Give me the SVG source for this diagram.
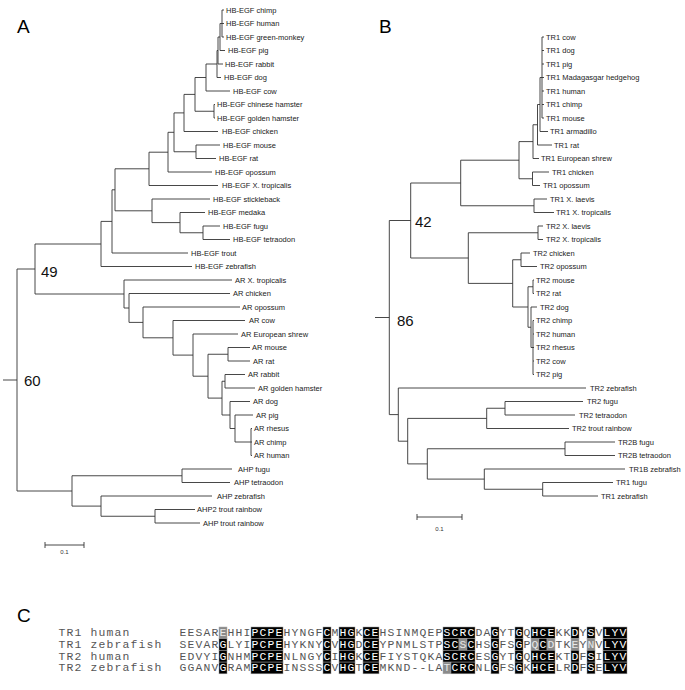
<svg xmlns="http://www.w3.org/2000/svg" width="685" height="690" viewBox="0 0 685 690">
<style>
.e{fill:none;stroke:#333;stroke-width:0.9}
.l{font-family:"Liberation Sans",Arial,sans-serif;font-size:7.5px;fill:#222}
.p{font-family:"Liberation Sans",Arial,sans-serif;font-size:19px;fill:#000}
.n{font-family:"Liberation Sans",Arial,sans-serif;font-size:15px;fill:#111}
.s{font-family:"Liberation Sans",Arial,sans-serif;font-size:6px;fill:#333}
.m{font-family:"Liberation Mono","Courier New",monospace;font-size:11.4px;letter-spacing:1.16px;fill:#555}
.b{fill:#000;stroke:#999;stroke-width:0.5}
.g{fill:#8a8a8a;stroke:#aaa;stroke-width:0.5}
.w{fill:#fff}
.wg{fill:#e8e8e8}
</style>
<rect width="685" height="690" fill="#fff"/>
<text class="p" x="17" y="33">A</text>
<text class="p" x="379" y="33">B</text>
<text class="p" x="17" y="622">C</text>
<g id="connectors">
<path class="e" d="M224,10H222V37H224M222,23.5H224"/>
<path class="e" d="M222,23.5H220V50.5H225"/>
<path class="e" d="M220,37H218V64H223"/>
<path class="e" d="M218,50.5H217V77.5H221"/>
<path class="e" d="M217,64H206V91H230"/>
<path class="e" d="M215,104.5H214V118H215"/>
<path class="e" d="M206,77.5H195V111.25H214"/>
<path class="e" d="M195,94.4H184V131.5H218"/>
<path class="e" d="M220,145H196V158.5H216"/>
<path class="e" d="M184,112.9H174V151.75H196"/>
<path class="e" d="M174,132.3H168V172H212"/>
<path class="e" d="M168,152.2H149V185.5H218"/>
<path class="e" d="M220,226H203V239.5H230"/>
<path class="e" d="M205,212.5H180V232.75H203"/>
<path class="e" d="M210,199H152V222.6H180"/>
<path class="e" d="M149,168.8H115V210.8H152"/>
<path class="e" d="M115,189.8H112V253H188"/>
<path class="e" d="M112,221.4H101V266.5H192"/>
<path class="e" d="M252,428.5H251V455.5H252M251,442H252"/>
<path class="e" d="M253,415H235V442H251"/>
<path class="e" d="M250,401.5H230V428.5H235"/>
<path class="e" d="M245,374.5H225V388H255"/>
<path class="e" d="M225,381.25H222V415H230"/>
<path class="e" d="M250,347.5H228V361H250"/>
<path class="e" d="M228,354.25H208V398.1H222"/>
<path class="e" d="M238,334H193V376.2H208"/>
<path class="e" d="M245,320.5H173V355.1H193"/>
<path class="e" d="M240,307H143V337.8H173"/>
<path class="e" d="M230,293.5H129V322.4H143"/>
<path class="e" d="M232,280H124V308H129"/>
<path class="e" d="M101,244H35V294H124"/>
<path class="e" d="M232,469H182V482.5H230"/>
<path class="e" d="M195,509.5H155V523H200"/>
<path class="e" d="M212,496H101V516.25H155"/>
<path class="e" d="M182,475.75H72V506.1H101"/>
<path class="e" d="M35,269H17V491H72M3,380H17"/>
<path class="e" d="M45,545H84M45,542V548M84,542V548"/>
<path class="e" d="M544,37H542V118H544M542,50.5H544M542,64H544M542,77.5H544M542,91H544M542,104.5H544"/>
<path class="e" d="M542,77.5H540V131.5H548"/>
<path class="e" d="M540,104.5H537.5V145H552"/>
<path class="e" d="M537.5,124.75H533V158.5H539"/>
<path class="e" d="M549,172H532.5V185.5H540"/>
<path class="e" d="M533,141.6H519V178.75H532.5"/>
<path class="e" d="M547,199H534V212.5H554"/>
<path class="e" d="M519,160.2H460.7V205.75H534"/>
<path class="e" d="M543,226H538V239.5H543"/>
<path class="e" d="M530,253H521V266.5H537"/>
<path class="e" d="M534,280H533V293.5H534"/>
<path class="e" d="M534,320.5H533V374.5H534M533,334H534M533,347.5H534M533,361H534"/>
<path class="e" d="M537,307H531V347.5H533"/>
<path class="e" d="M533,286.75H528V327.25H531"/>
<path class="e" d="M521,259.75H512.7V307H528"/>
<path class="e" d="M538,232.75H468.3V283.4H512.7"/>
<path class="e" d="M460.7,183H410.7V258H468.3"/>
<path class="e" d="M583,401.5H505V415H575"/>
<path class="e" d="M505,408.25H486.7V428.5H569"/>
<path class="e" d="M615,442H565V455.5H615"/>
<path class="e" d="M613,482.5H542.7V496H598"/>
<path class="e" d="M625,469H484.3V489.25H542.7"/>
<path class="e" d="M565,448.75H427.3V479.1H484.3"/>
<path class="e" d="M486.7,418.4H407.7V463.9H427.3"/>
<path class="e" d="M586,388H398.3V441.2H407.7"/>
<path class="e" d="M410.7,220.5H389.3V414.6H398.3M375,317.5H389.3"/>
<path class="e" d="M417,517H462M417,514V520M462,514V520"/>
</g>
<g id="treeA-labels">
<text class="l" x="226" y="12.7">HB-EGF chimp</text>
<text class="l" x="226" y="26.2">HB-EGF human</text>
<text class="l" x="226" y="39.7">HB-EGF green-monkey</text>
<text class="l" x="228" y="53.2">HB-EGF pig</text>
<text class="l" x="225" y="66.7">HB-EGF rabbit</text>
<text class="l" x="224" y="80.2">HB-EGF dog</text>
<text class="l" x="233" y="93.7">HB-EGF cow</text>
<text class="l" x="217" y="107.2">HB-EGF chinese hamster</text>
<text class="l" x="217" y="120.7">HB-EGF golden hamster</text>
<text class="l" x="222" y="134.2">HB-EGF chicken</text>
<text class="l" x="223" y="147.7">HB-EGF mouse</text>
<text class="l" x="219" y="161.2">HB-EGF rat</text>
<text class="l" x="215" y="174.7">HB-EGF opossum</text>
<text class="l" x="222" y="188.2">HB-EGF X. tropicalis</text>
<text class="l" x="213" y="201.7">HB-EGF stickleback</text>
<text class="l" x="208" y="215.2">HB-EGF medaka</text>
<text class="l" x="223" y="228.7">HB-EGF fugu</text>
<text class="l" x="233" y="242.2">HB-EGF tetraodon</text>
<text class="l" x="191" y="255.7">HB-EGF trout</text>
<text class="l" x="195" y="269.2">HB-EGF zebrafish</text>
<text class="l" x="235" y="282.7">AR X. tropicalis</text>
<text class="l" x="233" y="296.2">AR chicken</text>
<text class="l" x="242" y="309.7">AR opossum</text>
<text class="l" x="249" y="323.2">AR cow</text>
<text class="l" x="241" y="336.7">AR European shrew</text>
<text class="l" x="252" y="350.2">AR mouse</text>
<text class="l" x="253" y="363.7">AR rat</text>
<text class="l" x="248" y="377.2">AR rabbit</text>
<text class="l" x="258" y="390.7">AR golden hamster</text>
<text class="l" x="253" y="404.2">AR dog</text>
<text class="l" x="256" y="417.7">AR pig</text>
<text class="l" x="254" y="431.2">AR rhesus</text>
<text class="l" x="254" y="444.7">AR chimp</text>
<text class="l" x="254" y="458.2">AR human</text>
<text class="l" x="238" y="471.7">AHP fugu</text>
<text class="l" x="234" y="485.2">AHP tetraodon</text>
<text class="l" x="217" y="498.7">AHP zebrafish</text>
<text class="l" x="197" y="512.2">AHP2 trout rainbow</text>
<text class="l" x="203" y="525.7">AHP trout rainbow</text>
<text class="n" x="41" y="277">49</text>
<text class="n" x="24" y="386">60</text>
<text class="s" x="64.5" y="554" text-anchor="middle">0.1</text>
</g>
<g id="treeB-labels">
<text class="l" x="546" y="39.7">TR1 cow</text>
<text class="l" x="546" y="53.2">TR1 dog</text>
<text class="l" x="546" y="66.7">TR1 pig</text>
<text class="l" x="546" y="80.2">TR1 Madagasgar hedgehog</text>
<text class="l" x="546" y="93.7">TR1 human</text>
<text class="l" x="546" y="107.2">TR1 chimp</text>
<text class="l" x="546" y="120.7">TR1 mouse</text>
<text class="l" x="550" y="134.2">TR1 armadillo</text>
<text class="l" x="554" y="147.7">TR1 rat</text>
<text class="l" x="541" y="161.2">TR1 European shrew</text>
<text class="l" x="552" y="174.7">TR1 chicken</text>
<text class="l" x="543" y="188.2">TR1 opossum</text>
<text class="l" x="550" y="201.7">TR1 X. laevis</text>
<text class="l" x="556" y="215.2">TR1 X. tropicalis</text>
<text class="l" x="546" y="228.7">TR2 X. laevis</text>
<text class="l" x="546" y="242.2">TR2 X. tropicalis</text>
<text class="l" x="533" y="255.7">TR2 chicken</text>
<text class="l" x="540" y="269.2">TR2 opossum</text>
<text class="l" x="536" y="282.7">TR2 mouse</text>
<text class="l" x="536" y="296.2">TR2 rat</text>
<text class="l" x="540" y="309.7">TR2 dog</text>
<text class="l" x="536" y="323.2">TR2 chimp</text>
<text class="l" x="536" y="336.7">TR2 human</text>
<text class="l" x="536" y="350.2">TR2 rhesus</text>
<text class="l" x="536" y="363.7">TR2 cow</text>
<text class="l" x="536" y="377.2">TR2 pig</text>
<text class="l" x="590" y="390.7">TR2 zebrafish</text>
<text class="l" x="587" y="404.2">TR2 fugu</text>
<text class="l" x="579" y="417.7">TR2 tetraodon</text>
<text class="l" x="572" y="431.2">TR2 trout rainbow</text>
<text class="l" x="618" y="444.7">TR2B fugu</text>
<text class="l" x="618" y="458.2">TR2B tetraodon</text>
<text class="l" x="629" y="471.7">TR1B zebrafish</text>
<text class="l" x="616" y="485.2">TR1 fugu</text>
<text class="l" x="601" y="498.7">TR1 zebrafish</text>
<text class="n" x="415" y="227">42</text>
<text class="n" x="397" y="326">86</text>
<text class="s" x="439.5" y="531" text-anchor="middle">0.1</text>
</g>
<g id="alignment">
<g id="row1">
<rect class="g" x="219" y="627" width="8" height="11.7"/>
<rect class="b" x="251" y="627" width="32" height="11.7"/>
<rect class="b" x="323" y="627" width="8" height="11.7"/>
<rect class="b" x="339" y="627" width="16" height="11.7"/>
<rect class="b" x="363" y="627" width="16" height="11.7"/>
<rect class="b" x="443" y="627" width="32" height="11.7"/>
<rect class="b" x="491" y="627" width="8" height="11.7"/>
<rect class="b" x="515" y="627" width="8" height="11.7"/>
<rect class="b" x="531" y="627" width="24" height="11.7"/>
<rect class="b" x="571" y="627" width="8" height="11.7"/>
<rect class="b" x="587" y="627" width="8" height="11.7"/>
<rect class="b" x="603" y="627" width="24" height="11.7"/>
<text class="m" x="58.6" y="636.3">TR1 human</text>
<text class="m" x="179.6" y="636.3">EESAR<tspan class="wg">E</tspan>HHI<tspan class="w">PCPE</tspan>HYNGF<tspan class="w">C</tspan>M<tspan class="w">HG</tspan>K<tspan class="w">CE</tspan>HSINMQEP<tspan class="w">SCRC</tspan>DA<tspan class="w">G</tspan>YT<tspan class="w">G</tspan>Q<tspan class="w">HCE</tspan>KK<tspan class="w">D</tspan>Y<tspan class="w">S</tspan>V<tspan class="w">LYV</tspan></text>
</g>
<g id="row2">
<rect class="b" x="219" y="638.7" width="8" height="11.7"/>
<rect class="b" x="251" y="638.7" width="32" height="11.7"/>
<rect class="b" x="323" y="638.7" width="8" height="11.7"/>
<rect class="b" x="339" y="638.7" width="16" height="11.7"/>
<rect class="b" x="363" y="638.7" width="16" height="11.7"/>
<rect class="b" x="443" y="638.7" width="16" height="11.7"/>
<rect class="g" x="459" y="638.7" width="8" height="11.7"/>
<rect class="b" x="467" y="638.7" width="8" height="11.7"/>
<rect class="b" x="491" y="638.7" width="8" height="11.7"/>
<rect class="b" x="515" y="638.7" width="8" height="11.7"/>
<rect class="g" x="531" y="638.7" width="8" height="11.7"/>
<rect class="b" x="539" y="638.7" width="8" height="11.7"/>
<rect class="g" x="547" y="638.7" width="8" height="11.7"/>
<rect class="g" x="571" y="638.7" width="8" height="11.7"/>
<rect class="g" x="587" y="638.7" width="8" height="11.7"/>
<rect class="b" x="603" y="638.7" width="24" height="11.7"/>
<text class="m" x="58.6" y="648">TR1 zebrafish</text>
<text class="m" x="179.6" y="648">SEVAR<tspan class="w">G</tspan>LYI<tspan class="w">PCPE</tspan>HYKNY<tspan class="w">C</tspan>V<tspan class="w">HG</tspan>D<tspan class="w">CE</tspan>YPNMLSTP<tspan class="w">SC</tspan><tspan class="wg">S</tspan><tspan class="w">C</tspan>HS<tspan class="w">G</tspan>FS<tspan class="w">G</tspan>P<tspan class="wg">Q</tspan><tspan class="w">C</tspan><tspan class="wg">D</tspan>TK<tspan class="wg">E</tspan>Y<tspan class="wg">N</tspan>V<tspan class="w">LYV</tspan></text>
</g>
<g id="row3">
<rect class="b" x="219" y="650.4" width="8" height="11.7"/>
<rect class="b" x="251" y="650.4" width="32" height="11.7"/>
<rect class="b" x="323" y="650.4" width="8" height="11.7"/>
<rect class="b" x="339" y="650.4" width="16" height="11.7"/>
<rect class="b" x="363" y="650.4" width="16" height="11.7"/>
<rect class="b" x="443" y="650.4" width="32" height="11.7"/>
<rect class="b" x="491" y="650.4" width="8" height="11.7"/>
<rect class="b" x="515" y="650.4" width="8" height="11.7"/>
<rect class="b" x="531" y="650.4" width="24" height="11.7"/>
<rect class="b" x="571" y="650.4" width="8" height="11.7"/>
<rect class="b" x="587" y="650.4" width="8" height="11.7"/>
<rect class="b" x="603" y="650.4" width="24" height="11.7"/>
<text class="m" x="58.6" y="659.7">TR2 human</text>
<text class="m" x="179.6" y="659.7">EDVYI<tspan class="w">G</tspan>NHM<tspan class="w">PCPE</tspan>NLNGY<tspan class="w">C</tspan>I<tspan class="w">HG</tspan>K<tspan class="w">CE</tspan>FIYSTQKA<tspan class="w">SCRC</tspan>ES<tspan class="w">G</tspan>YT<tspan class="w">G</tspan>Q<tspan class="w">HCE</tspan>KT<tspan class="w">D</tspan>F<tspan class="w">S</tspan>I<tspan class="w">LYV</tspan></text>
</g>
<g id="row4">
<rect class="b" x="219" y="662.1" width="8" height="11.7"/>
<rect class="b" x="251" y="662.1" width="32" height="11.7"/>
<rect class="b" x="323" y="662.1" width="8" height="11.7"/>
<rect class="b" x="339" y="662.1" width="16" height="11.7"/>
<rect class="b" x="363" y="662.1" width="16" height="11.7"/>
<rect class="g" x="443" y="662.1" width="8" height="11.7"/>
<rect class="b" x="451" y="662.1" width="24" height="11.7"/>
<rect class="b" x="491" y="662.1" width="8" height="11.7"/>
<rect class="b" x="515" y="662.1" width="8" height="11.7"/>
<rect class="b" x="531" y="662.1" width="24" height="11.7"/>
<rect class="b" x="571" y="662.1" width="8" height="11.7"/>
<rect class="b" x="587" y="662.1" width="8" height="11.7"/>
<rect class="b" x="603" y="662.1" width="24" height="11.7"/>
<text class="m" x="58.6" y="671.4">TR2 zebrafish</text>
<text class="m" x="179.6" y="671.4">GGANV<tspan class="w">G</tspan>RAM<tspan class="w">PCPE</tspan>INSSS<tspan class="w">C</tspan>V<tspan class="w">HG</tspan>T<tspan class="w">CE</tspan>MKND--LA<tspan class="wg">T</tspan><tspan class="w">CRC</tspan>NL<tspan class="w">G</tspan>FS<tspan class="w">G</tspan>K<tspan class="w">HCE</tspan>LR<tspan class="w">D</tspan>F<tspan class="w">S</tspan>E<tspan class="w">LYV</tspan></text>
</g>
</g>
</svg>
